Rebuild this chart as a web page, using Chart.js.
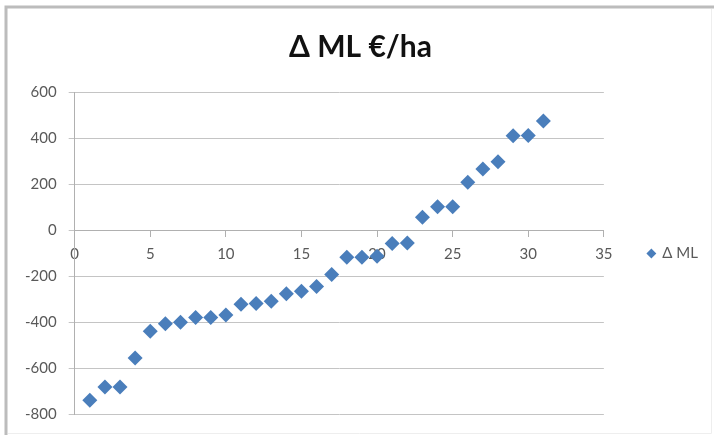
<!DOCTYPE html>
<html>
<head>
<meta charset="utf-8">
<script src="https://cdn.jsdelivr.net/npm/chart.js@4"></script>
<style>
  html, body { margin: 0; padding: 0; background: #fff; }
  #wrap { width: 714px; height: 435px; position: relative; }
</style>
</head>
<body>
<div id="wrap"><canvas id="c" width="714" height="435"></canvas></div>
<script>
const chartTitle = "Δ ML €/ha";
const seriesName = "Δ ML";
const xValues = [1,2,3,4,5,6,7,8,9,10,11,12,13,14,15,16,17,18,19,20,21,22,23,24,25,26,27,28,29,30,31];
const yValues = [-740,-683,-683,-557,-440,-408,-401,-380,-380,-370,-323,-320,-310,-277,-266,-246,-193,-119,-119,-114,-59,-56,55,101,101,208,265,297,410,411,474];
const xTicks = [0,5,10,15,20,25,30,35];
const yTicks = [-800,-600,-400,-200,0,200,400,600];

const framePlugin = {
  id: 'frame',
  beforeDraw(chart) {
    const ctx = chart.ctx;
    ctx.save();
    ctx.strokeStyle = '#bcbcbc';
    ctx.lineWidth = 3;
    ctx.beginPath();
    ctx.moveTo(6, 435); ctx.lineTo(6, 7); ctx.lineTo(714, 7);
    ctx.stroke();
    ctx.strokeStyle = '#eeeeee';
    ctx.lineWidth = 1;
    ctx.beginPath();
    ctx.moveTo(8, 433.5); ctx.lineTo(711.5, 433.5); ctx.lineTo(711.5, 9);
    ctx.stroke();
    ctx.restore();
  }
};

const points = xValues.map((x, i) => ({ x: x, y: yValues[i] }));

new Chart(document.getElementById('c'), {
  type: 'scatter',
  data: {
    datasets: [{
      label: seriesName,
      data: points,
      pointStyle: 'rectRot',
      pointRadius: 7.5,
      pointHoverRadius: 7.5,
      backgroundColor: '#4a7ebb',
      borderColor: '#4a7ebb',
      borderWidth: 0,
      showLine: false
    }]
  },
  options: {
    responsive: false,
    animation: false,
    events: [],
    layout: { padding: { left: 13, right: 6, top: 0, bottom: 20 } },
    plugins: {
      title: {
        display: true,
        text: chartTitle,
        color: '#111',
        font: { family: 'Lato', size: 30, weight: 'bold' },
        padding: { top: 29, bottom: 27 }
      },
      legend: {
        display: true,
        position: 'right',
        title: {
          display: true,
          text: '',
          font: { family: 'Lato', size: 10 },
          padding: { top: 40, bottom: 40 }
        },
        labels: {
          usePointStyle: true,
          boxWidth: 7,
          boxHeight: 7,
          padding: 44,
          color: '#595959',
          font: { family: 'Lato', size: 15 }
        }
      },
      tooltip: { enabled: false }
    },
    scales: {
      x: {
        type: 'linear',
        position: { y: 0 },
        min: 0,
        max: 35,
        afterBuildTicks: (scale) => { scale.ticks = xTicks.map(v => ({ value: v })); },
        ticks: {
          color: '#595959',
          font: { family: 'Lato', size: 15 },
          padding: 9,
          maxRotation: 0
        },
        grid: {
          display: true,
          drawOnChartArea: false,
          drawTicks: true,
          tickLength: 6,
          color: '#b0b0b0'
        },
        border: { display: true, color: '#b0b0b0', width: 1 }
      },
      y: {
        type: 'linear',
        min: -800,
        max: 600,
        afterBuildTicks: (scale) => { scale.ticks = yTicks.map(v => ({ value: v })); },
        ticks: {
          color: '#595959',
          font: { family: 'Lato', size: 15 },
          padding: 12
        },
        grid: {
          color: '#c4c4c4',
          tickLength: 6
        },
        border: { display: true, color: '#b0b0b0', width: 1 }
      }
    }
  },
  plugins: [framePlugin]
});
</script>
</body>
</html>
